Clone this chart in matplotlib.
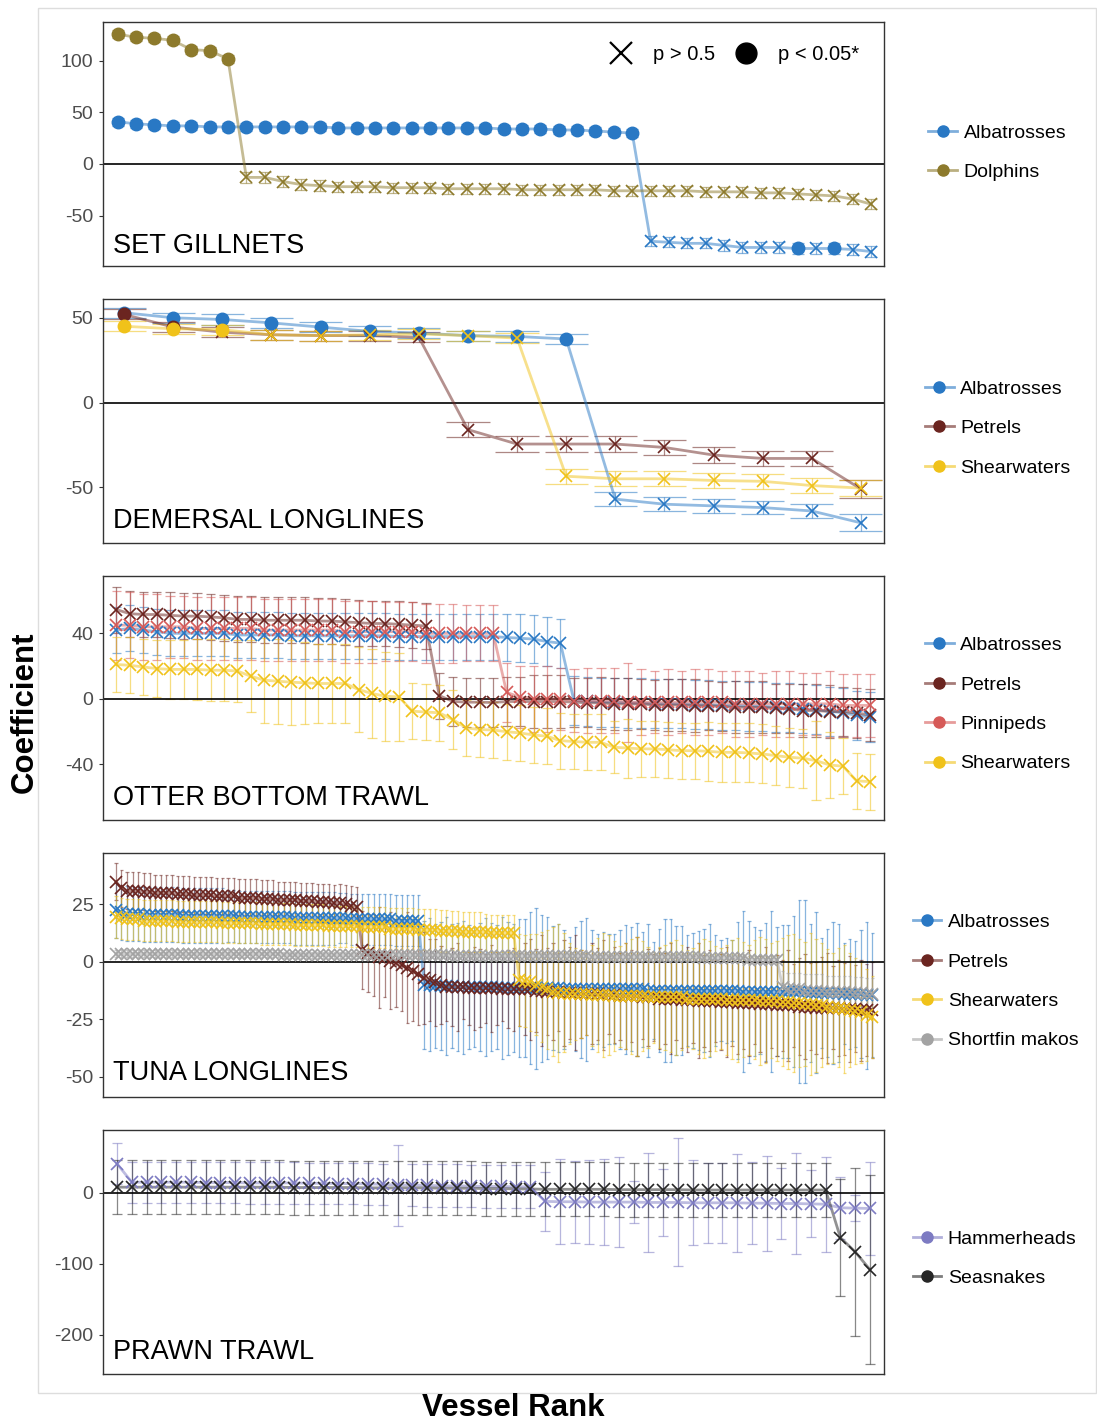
import numpy as np
import matplotlib.pyplot as plt
from matplotlib.colors import to_rgba
from matplotlib.lines import Line2D
from matplotlib.patches import Rectangle

plt.rcParams['font.family'] = ['Liberation Sans', 'DejaVu Sans']
plt.rcParams['axes.unicode_minus'] = False

# ==========================================
# cores de cada grupo
# ==========================================
COL_ALBATROSS = '#2978C4'
COL_DOLPHIN = '#8D7A2C'
COL_PETREL = '#6B2520'
COL_PINNIPED = '#D65A58'
COL_SHEARWATER = '#F0C21A'
COL_MAKO = '#A3A3A3'
COL_HAMMER = '#7D7BC2'
COL_SEASNAKE = '#262626'

# ==========================================
# SET GILLNETS (42 embarcações)
# ==========================================
gill_albatross = [41, 39, 38, 37, 37, 36, 36, 36, 36, 36, 36, 36, 35, 35, 35, 35, 35, 35, 35, 35, 35,
                  34, 34, 34, 33, 33, 32, 31, 30,
                  -75, -76, -77, -77, -79, -81, -81, -81, -82, -82, -82, -83, -85]
gill_albatross_err = [4, 4, 4, 4, 4, 4, 4, 4, 4, 4, 4, 4, 4, 4, 4, 4, 4, 4, 4, 4, 4, 4, 4, 4, 4, 4, 4, 4, 4,
                      5, 5, 5, 5, 5, 5, 5, 5, 5, 5, 5, 5, 5]
gill_albatross_sig = list(range(29)) + [37, 39]

gill_dolphin = [126, 123, 122, 120, 111, 110, 102,
                -13, -13, -17, -20, -21, -22, -22, -22, -23, -23, -23, -24, -24, -24, -24, -25, -25, -25, -25, -25,
                -26, -26, -26, -26, -26, -27, -27, -27, -28, -28, -29, -30, -31, -34, -39]
gill_dolphin_err = [4, 4, 4, 4, 4, 4, 4,
                    5, 5, 5, 5, 5, 5, 5, 5, 5, 5, 5, 5, 5, 5, 5, 5, 5, 5, 5, 5,
                    5, 5, 5, 5, 5, 5, 5, 5, 5, 5, 5, 5, 5, 5, 5]
gill_dolphin_sig = list(range(7))

# ==========================================
# DEMERSAL LONGLINES (16 embarcações)
# ==========================================
dem_albatross = [53, 50, 49, 47, 44.5, 42, 41, 39.5, 39, 37.5, -57, -60, -61, -62, -64, -71]
dem_albatross_err = [3, 3, 3, 3, 3, 3, 3, 3, 3, 3, 4, 4, 4, 4, 4, 5]
dem_albatross_sig = list(range(10))

dem_petrel = [52, 44.5, 41.5, 40, 39.5, 39.5, 38.5, -16, -24.5, -24.5, -24.5, -26.5, -31, -33, -33, -51]
dem_petrel_err = [3, 3, 3, 3, 3, 3, 3, 4.5, 4.5, 4.5, 4.5, 4.5, 4.5, 4.5, 4.5, 5.5]
dem_petrel_sig = [0, 1]

dem_shearwater = [45, 43.5, 43, 40, 39.5, 40, 40.5, 39.5, 38, -43.5, -45, -45, -46, -46.5, -49, -50.5]
dem_shearwater_err = [3, 3, 3, 3, 3, 3, 3, 3, 3, 4.5, 4.5, 4.5, 4.5, 4.5, 4.5, 4.5]
dem_shearwater_sig = [0, 1, 2]

# ==========================================
# OTTER BOTTOM TRAWL (57 embarcações)
# ==========================================
otter_albatross = [42, 43, 42, 41, 40, 40, 40, 40, 40, 39, 39, 39, 39, 38.5, 38.5, 38.5, 38.5, 38.5, 38.5, 38.5,
                   38.5, 38, 38, 38, 38, 38, 38, 38, 38, 37.5, 37, 36.5, 35, 34,
                   -1, -1.5, -2, -2, -2.5, -2.5, -3, -3, -3, -3.5, -3.5, -4, -4, -4.5, -4.5, -5, -5.5, -6, -6.5,
                   -7.5, -8.5, -10, -11]
otter_albatross_err = [14, 14, 14, 14, 14, 14, 14, 14, 14, 14, 14, 14, 14, 14, 14, 14, 14, 14, 14, 14,
                       14, 14, 14, 14, 14, 14, 14, 14, 14, 14.5, 14.5, 14.5, 15, 15,
                       15, 15, 15, 15, 15, 15, 15, 15, 15, 15, 15, 15, 15, 15, 15, 15, 15, 15, 15,
                       15, 15, 15, 15]

otter_petrel = [54.5, 52, 51.5, 51.5, 51, 50.5, 50.5, 50, 49.5, 48.5, 48.5, 48, 48, 48, 48, 47.5, 47.5, 47,
                46.5, 46, 46, 45.5, 45, 44.5,
                2, -1.5, -2, -2, -2.2, -1.6, -1.6, -1.6, -1.6, -1.6, -2, -2.4, -2.4, -3.1, -3.1, -3.1,
                -3.7, -3.7, -3.7, -4.1, -4.1, -4.5, -5.1, -5.1, -5.1, -5.7, -6.1, -7.1, -7.1, -7.7, -7.7,
                -8.6, -9.8]
otter_petrel_err = [14, 14, 14, 14, 14, 14, 14, 14, 14, 14, 14, 14, 14, 14, 14, 14, 14, 14, 14, 14, 14, 14, 14, 14,
                    14, 15, 15, 15, 15, 15, 15, 16, 16, 16, 15, 15, 16, 16, 16, 15, 15, 16, 16, 16,
                    15, 15, 16, 16, 16, 15, 15, 16, 16, 16, 15, 15, 16]

otter_pinniped = [45, 45, 44, 44, 44, 44, 43, 43, 43, 43, 43, 42, 42, 42, 42, 42, 42, 41, 41, 41, 41, 41, 41,
                  40, 40, 40, 40, 40, 40,
                  4, 1, 0, 0, 0, -1, -1, -1, -1, -2, -2, -2, -2, -2, -2, -2, -2, -3, -3, -3, -3, -3, -3, -3,
                  -3, -4, -4, -4]
otter_pinniped_err = [21, 20, 20, 20, 19, 19, 19, 19, 19, 19, 19, 19, 19, 19, 19, 19, 19, 19, 19, 19,
                      18, 18, 18, 18, 18, 18, 17, 17, 17,
                      18, 19, 20, 20, 19, 19, 20, 20, 20, 24, 20, 19, 20, 19, 20, 20, 19, 20, 20, 19,
                      20, 20, 19, 19, 20, 19, 19, 19]

otter_shearwater = [21, 20.5, 19.5, 18.5, 18, 18, 18, 17.5, 17.5, 17, 13.8, 11.4, 10.8, 10.2, 9.8, 9.4, 9.4,
                    9.4, 5.7, 3.3, 1.6, 1.2, -7.5, -8, -8.5, -12.6, -17.7, -18.7,
                    -19, -20, -20.8, -22, -22.8, -25.5, -26, -26.5, -26.5, -29.5, -30, -30.5, -30.5, -31,
                    -31.6, -31.6, -32, -32.6, -32.6, -33, -33.6, -34.6, -35.6, -36.2, -37.7, -40.3, -41.1,
                    -50, -50.5]
otter_shearwater_err = [17, 17, 17, 17.5, 18, 18, 18.5, 19, 19, 19, 22, 26, 26, 26, 25, 24, 24, 24, 26, 27,
                        27, 27, 17, 17, 17, 18, 17, 17, 17, 17, 17, 17, 17, 17, 17, 17, 17, 16, 18, 17,
                        17, 17, 17, 17, 18, 18, 18, 18, 18, 18, 18, 18, 24, 20, 17, 17, 17]

# ==========================================
# TUNA LONGLINES (136 embarcações)
# ==========================================
tuna_albatross = [22.5, 21.5, 21, 21, 21, 20.5, 20.5, 20.5, 20.5, 20.5,
                  20.5, 20.5, 20, 20, 20, 20, 20, 20, 20, 20,
                  20, 20, 19.5, 19.5, 19.5, 19.5, 19.5, 19.5, 19.5, 19.5,
                  19.5, 19.5, 19, 19, 19, 19, 19, 19, 19, 19,
                  19, 19, 18.5, 18.5, 18.5, 18.5, 18.5, 18.5, 18.5, 18.5,
                  18, 18, 18, 18, 18,
                  -10, -10, -10.5, -10.5, -10.5, -10.5, -11, -11, -11, -11,
                  -11, -11, -11, -11, -11.5, -11.5, -11.5, -11.5,
                  -11.5, -11.5, -11.5, -11.5, -11.5, -11.5, -11.5, -12, -12, -12,
                  -12, -12, -12, -12, -12, -12, -12, -12, -12, -12,
                  -12, -12, -12.5, -12.5, -12.5, -12.5, -12.5, -12.5, -12.5, -12.5,
                  -12.5, -12.5, -12.5, -12.5, -12.5, -12.5, -12.5, -12.5, -12.5, -13,
                  -13, -13, -13, -13, -13, -13, -13, -13, -13, -13,
                  -13, -13.5, -13.5, -13.5, -13.5, -13.5, -13.5, -14, -14, -14,
                  -14, -14.5, -14.5]
tuna_albatross_err = [12, 12, 12, 12, 12, 12, 12, 12, 12, 12,
                      12, 12, 12, 12, 12, 12, 12, 12, 12, 12,
                      11.5, 11.5, 11.5, 11.5, 11.5, 11.5, 11.5, 11.5, 11.5, 11.5,
                      11.5, 11.5, 11.5, 11.5, 11.5, 11.5, 11.5, 11.5, 11.5, 11.5,
                      11, 11, 11, 11, 11, 11, 11, 11, 11, 11,
                      11, 11, 11, 11, 11,
                      28, 29, 27, 28, 30, 27, 28, 29, 27, 26, 28, 30, 28, 27, 31, 29, 28, 30,
                      30, 33, 35, 32, 31, 27, 28, 26, 23, 27,
                      30, 31, 26, 24, 25, 24, 24, 26, 28, 27,
                      29, 25, 29, 21, 27, 31, 31, 28, 28, 24,
                      25, 26, 27, 29, 24, 22, 23, 22, 30, 35,
                      31, 28, 27, 30, 35, 28, 29, 29, 33, 40,
                      40, 30, 35, 24, 28, 31, 30, 22, 24, 23,
                      28, 32, 27]

tuna_petrel = [35, 32, 31, 31, 31, 30.5, 30.5, 30, 30, 30,
               30, 29.5, 29.5, 29.5, 29, 29, 29, 29, 28.5, 28.5,
               28.5, 28.5, 28, 28, 28, 28, 27.5, 27.5, 27.5, 27,
               27, 27, 27, 26.5, 26.5, 26.5, 26, 26, 26, 25.5,
               25.5, 25, 24.5, 24,
               5, 4, 3, 2, 1.5, 0.5, -0.5, -1.5, -2.5, -4, -5.5, -7, -8, -9, -10,
               -11, -11, -11, -11, -11.5, -11.5, -11.5, -11.5, -11.5, -11.5, -12, -12, -12, -12,
               -12, -12, -12.5, -12.5, -13, -13, -13, -13.5, -13.5, -13.5,
               -14, -14, -14, -14, -14.5, -14.5, -14.5, -15, -15, -15,
               -15, -15.5, -15.5, -15.5, -16, -16, -16, -16, -16.5, -16.5,
               -16.5, -17, -17, -17, -17, -17.5, -17.5, -17.5, -18, -18,
               -18, -18, -18.5, -18.5, -18.5, -19, -19, -19, -19, -19.5,
               -19.5, -19.5, -20, -20, -20, -20, -20, -20.5, -20.5, -20.5,
               -21, -21, -21]
tuna_petrel_err = [8, 8, 8, 8, 8, 8, 8, 8, 8, 8,
                   8, 8, 8, 8, 8, 8, 8, 8, 8, 8,
                   8, 8, 8, 8, 8, 8, 8, 8, 8, 8,
                   8, 8, 8, 8, 8, 8, 8, 8, 8, 8,
                   8.5, 8.5, 8.5, 8.5,
                   17, 17, 18, 22, 17, 21, 19, 20, 24, 22, 22, 20, 18, 19, 17,
                   15, 17, 19, 14, 16, 18, 17, 15, 19, 16, 14, 17, 18, 16,
                   20, 22, 18, 24, 19, 21, 17, 23, 20, 25,
                   19, 18, 22, 20, 24, 17, 21, 19, 23, 20,
                   26, 18, 21, 19, 22, 20, 24, 18, 21, 23,
                   19, 25, 20, 22, 18, 21, 24, 19, 22, 20,
                   23, 18, 21, 25, 19, 22, 20, 24, 18, 21,
                   23, 19, 20, 22, 24, 18, 21, 20, 23, 19,
                   22, 20, 21]

tuna_shearwater = [19.5, 19, 18.5, 18.5, 18.5, 18, 18, 18, 18, 18,
                   18, 17.5, 17.5, 17.5, 17.5, 17.5, 17.5, 17.5, 17.5, 17,
                   17, 17, 17, 17, 17, 17, 16.5, 16.5, 16.5, 16.5,
                   16.5, 16.5, 16, 16, 16, 16, 16, 16, 15.5, 15.5,
                   15.5, 15.5, 15.5, 15.5, 15, 15, 15, 15, 15, 14.5,
                   14.5, 14.5, 14.5, 14.5, 14, 14, 14, 14, 13.5, 13.5,
                   13.5, 13.5, 13, 13, 13, 13, 13, 12.5, 12.5, 12.5,
                   12.5, 12.5,
                   -8, -8.5, -9, -10, -11, -12, -13, -13.5, -13.5, -14,
                   -14, -14, -14, -14.5, -14.5, -14.5, -14.5, -15, -15, -15,
                   -15, -15, -15, -15.5, -15.5, -15.5, -15.5, -15.5, -15.5, -15.5,
                   -16, -16, -16, -16, -16, -16, -16, -16.5, -16.5, -16.5,
                   -16.5, -16.5, -16.5, -17, -17, -17, -17, -17.5, -17.5, -18,
                   -18, -18.5, -18.5, -19, -19, -19.5, -20, -20, -20.5, -21,
                   -21.5, -22, -23, -24]
tuna_shearwater_err = [9, 9, 9, 9, 9, 9, 9, 9, 9, 9,
                       9, 9, 9, 9, 9, 9, 9, 9, 9, 9,
                       9, 9, 9, 9, 9, 9, 9, 9, 9, 9,
                       9, 9, 9, 9, 9, 9, 9, 9, 9, 9,
                       9, 9, 9, 9, 9, 9, 9, 9, 9, 9,
                       9, 9, 9, 9, 9, 9, 9, 9, 9, 9,
                       8.5, 8.5, 8.5, 8.5, 8.5, 8.5, 8, 8, 8, 8, 8, 8,
                       20, 20, 21, 22, 24, 26, 28, 30, 26, 22,
                       20, 19, 18, 22, 25, 27, 26, 24, 22, 23,
                       25, 26, 24, 22, 20, 22, 23, 24, 25, 23,
                       21, 22, 24, 26, 25, 23, 22, 24, 26, 27,
                       25, 24, 26, 28, 27, 25, 26, 28, 29, 30,
                       28, 27, 31, 29, 27, 25, 24, 26, 28, 25,
                       23, 22, 20, 18]

tuna_mako = [3.5, 3.5, 3.5, 3.5, 3.5, 3.5, 3.5, 3.5, 3.5, 3.5,
             3.5, 3.5, 3.5, 3.5, 3.5, 3.5, 3.5, 3.5, 3.5, 3.5,
             3.5, 3.5, 3.5, 3.5, 3.5, 3.5, 3.5, 3.5, 3.5, 3.5,
             3, 3, 3, 3, 3, 3, 3, 3, 3, 3,
             3, 3, 3, 3, 3, 3, 3, 3, 3, 3,
             3, 3, 3, 3, 3, 3, 3, 3, 3, 3,
             2.5, 2.5, 2.5, 2.5, 2.5, 2.5, 2.5, 2.5, 2.5, 2.5,
             2.5, 2.5, 2.5, 2.5, 2.5, 2.5, 2.5, 2.5, 2.5, 2.5,
             2.5, 2.5, 2.5, 2.5, 2.5, 2, 2, 2, 2, 2,
             2, 2, 2, 2, 2, 2, 2, 2, 2, 2,
             2, 2, 2, 2, 2, 1.5, 1.5, 1.5, 1.5, 1.5,
             1.5, 1.5, 1.5, 1, 1, 1, 1, 1, 1,
             -11, -12, -12, -12, -12.5, -12.5, -12.5, -12.5, -13, -13,
             -13, -13, -13, -13.5, -13.5, -14, -14]
tuna_mako_err = [1.5, 1.5, 1.5, 1.5, 1.5, 1.5, 1.5, 1.5, 1.5, 1.5,
                 1.5, 1.5, 1.5, 1.5, 1.5, 1.5, 1.5, 1.5, 1.5, 1.5,
                 1.5, 1.5, 1.5, 1.5, 1.5, 1.5, 1.5, 1.5, 1.5, 1.5,
                 1.5, 1.5, 1.5, 1.5, 1.5, 1.5, 1.5, 1.5, 1.5, 1.5,
                 1.5, 1.5, 1.5, 1.5, 1.5, 1.5, 1.5, 1.5, 1.5, 1.5,
                 1.5, 1.5, 1.5, 1.5, 1.5, 1.5, 1.5, 1.5, 1.5, 1.5,
                 1.5, 1.5, 1.5, 1.5, 1.5, 1.5, 1.5, 1.5, 1.5, 1.5,
                 1.5, 1.5, 1.5, 1.5, 1.5, 1.5, 1.5, 1.5, 1.5, 1.5,
                 1.5, 1.5, 1.5, 1.5, 1.5, 1.5, 1.5, 1.5, 1.5, 1.5,
                 1.5, 1.5, 1.5, 1.5, 1.5, 1.5, 1.5, 1.5, 1.5, 1.5,
                 1.5, 1.5, 1.5, 1.5, 1.5, 1.5, 1.5, 1.5, 1.5, 1.5,
                 1.5, 1.5, 1.5, 1.5, 1.5, 1.5, 1.5, 1.5, 1.5,
                 7, 7, 7, 7, 7, 7, 7, 7, 7, 7,
                 7, 7, 7, 7, 7, 7, 7]

# ==========================================
# PRAWN TRAWL (52 embarcações)
# ==========================================
prawn_hammer = [41, 15, 15, 15, 15, 15, 14.5, 14.5, 14.5, 14, 14, 14, 14, 13.5, 13.5, 13, 13, 12.5, 12,
                11, 11, 10.5, 10, 10, 9.5, 9, 9, 8.5, 8.5,
                -12, -12.5, -12.5, -13, -13, -13, -13, -13.5, -13.5, -13.5, -14, -14, -14, -14,
                -14.5, -14.5, -15, -15, -15.5, -16, -21, -21.5, -22]
prawn_hammer_err = [29, 29, 29, 29, 29, 29, 29, 29, 29, 29, 29, 29, 29, 29, 29, 29, 29, 29, 29,
                    57, 30, 30, 30, 30, 30, 30, 30, 30, 30,
                    41, 60, 58, 59, 61, 63, 29, 70, 47, 90, 60, 56, 56, 69, 58, 67, 50, 71, 47, 67,
                    44, 18, 66]

prawn_seasnake = [8, 8, 8, 8, 8, 8, 8, 8, 8, 8, 8, 8, 7.5, 7.5, 7.5, 7.5, 7.5, 7, 7, 7, 7, 7,
                  6.5, 6.5, 6.5, 6, 6, 5.5, 5.5, 5, 5, 5, 5, 5, 4.5, 4.5, 4.5, 4.5, 4.5,
                  4, 4, 4, 4, 4, 4, 4, 4, 4, 4, -63, -83, -108]
prawn_seasnake_err = [38, 38, 38, 38, 38, 38, 38, 38, 38, 38, 38, 38, 38, 38, 38, 38, 38, 38, 38, 38,
                      38, 38, 38, 38, 38, 38, 38, 38, 38, 38, 38, 38, 38, 38, 38, 38, 38, 38, 38, 38,
                      38, 38, 38, 38, 38, 38, 38, 38, 38, 82, 118, 133]

# ==========================================
# configuração dos painéis
# ==========================================
paineis = [
    dict(titulo='SET GILLNETS', bottom=0.81307, ylim=(-99, 138), yticks=[-50, 0, 50, 100],
         xpad=(0.8, 0.7), cap=0.65, label_y=0.055, leg_x=1.057, leg_y=0.465,
         series=[('Albatrosses', gill_albatross, gill_albatross_err, gill_albatross_sig, COL_ALBATROSS),
                 ('Dolphins', gill_dolphin, gill_dolphin_err, gill_dolphin_sig, COL_DOLPHIN)]),
    dict(titulo='DEMERSAL LONGLINES', bottom=0.61841, ylim=(-82.9, 61.2), yticks=[-50, 0, 50],
         xpad=(0.43, 0.47), cap=0.88, label_y=0.061, leg_x=1.053, leg_y=0.469,
         series=[('Albatrosses', dem_albatross, dem_albatross_err, dem_albatross_sig, COL_ALBATROSS),
                 ('Petrels', dem_petrel, dem_petrel_err, dem_petrel_sig, COL_PETREL),
                 ('Shearwaters', dem_shearwater, dem_shearwater_err, dem_shearwater_sig, COL_SHEARWATER)]),
    dict(titulo='OTTER BOTTOM TRAWL', bottom=0.42375, ylim=(-73.9, 75.1), yticks=[-40, 0, 40],
         xpad=(0.99, 1.04), cap=0.7, label_y=0.061, leg_x=1.053, leg_y=0.473,
         series=[('Albatrosses', otter_albatross, otter_albatross_err, [], COL_ALBATROSS),
                 ('Petrels', otter_petrel, otter_petrel_err, [], COL_PETREL),
                 ('Pinnipeds', otter_pinniped, otter_pinniped_err, [], COL_PINNIPED),
                 ('Shearwaters', otter_shearwater, otter_shearwater_err, [], COL_SHEARWATER)]),
    dict(titulo='TUNA LONGLINES', bottom=0.22909, ylim=(-58.9, 47.5), yticks=[-50, -25, 0, 25],
         xpad=(2.3, 2.1), cap=0.6, label_y=0.07, leg_x=1.037, leg_y=0.473,
         series=[('Albatrosses', tuna_albatross, tuna_albatross_err, [], COL_ALBATROSS),
                 ('Petrels', tuna_petrel, tuna_petrel_err, [], COL_PETREL),
                 ('Shearwaters', tuna_shearwater, tuna_shearwater_err, [], COL_SHEARWATER),
                 ('Shortfin makos', tuna_mako, tuna_mako_err, [], COL_MAKO)]),
    dict(titulo='PRAWN TRAWL', bottom=0.03443, ylim=(-254.9, 88.7), yticks=[-200, -100, 0],
         xpad=(0.95, 0.95), cap=0.68, label_y=0.061, leg_x=1.037, leg_y=0.473,
         series=[('Hammerheads', prawn_hammer, prawn_hammer_err, [], COL_HAMMER),
                 ('Seasnakes', prawn_seasnake, prawn_seasnake_err, [], COL_SEASNAKE)]),
]

fig = plt.figure(figsize=(10.97, 14.23), dpi=100)
fig.patches.append(Rectangle((38 / 1097, 1 - 1393 / 1423), 1058 / 1097, 1385 / 1423,
                             transform=fig.transFigure, fill=False, edgecolor='#DDDDDD', lw=1))

for p in paineis:
    ax = fig.add_axes([0.0939, p['bottom'], 0.7119, 0.1716])
    n = len(p['series'][0][1])
    x = np.arange(1, n + 1)
    w = p['cap'] / 2

    # barras de erro
    for nome, vals, err, sig, cor in p['series']:
        v = np.array(vals, dtype=float)
        e = np.array(err, dtype=float)
        ax.vlines(x, v - e, v + e, color=cor, alpha=0.55, lw=0.9, zorder=1)
        ax.hlines(v + e, x - w, x + w, color=cor, alpha=0.55, lw=0.9, zorder=1)
        ax.hlines(v - e, x - w, x + w, color=cor, alpha=0.55, lw=0.9, zorder=1)

    ax.axhline(0, color='black', lw=1.2, zorder=2)

    # linhas
    for nome, vals, err, sig, cor in p['series']:
        ax.plot(x, vals, color=cor, alpha=0.5, lw=2.0, zorder=3)

    # pontos: círculo = p < 0.05, x = não significativo
    for nome, vals, err, sig, cor in p['series']:
        v = np.array(vals, dtype=float)
        m = np.zeros(n, dtype=bool)
        m[list(sig)] = True
        ax.plot(x[~m], v[~m], ls='none', marker='x', ms=8, mew=1.2, color=cor, zorder=4)
        ax.plot(x[m], v[m], ls='none', marker='o', ms=9, color=cor, mec=cor, zorder=4)

    ax.set_xlim(1 - p['xpad'][0], n + p['xpad'][1])
    ax.set_ylim(*p['ylim'])
    ax.set_yticks(p['yticks'])
    ax.set_xticks([])
    ax.tick_params(axis='y', length=3, width=0.8, color='#333333', labelsize=14,
                   labelcolor='#4D4D4D', pad=4)
    for sp in ax.spines.values():
        sp.set_color('#333333')
        sp.set_linewidth(1.0)

    ax.text(0.013, p['label_y'], p['titulo'], transform=ax.transAxes, fontsize=19.5,
            ha='left', va='baseline', color='black')

    if p['titulo'] == 'SET GILLNETS':
        sig_handles = [Line2D([0], [0], ls='none', marker='x', color='black', ms=16, mew=1.6),
                       Line2D([0], [0], ls='none', marker='o', color='black', ms=15)]
        leg_sig = ax.legend(sig_handles, ['p > 0.5', 'p < 0.05*'], ncol=2, loc='center right',
                            bbox_to_anchor=(0.968, 0.865), frameon=False, fontsize=14.5,
                            handlelength=1.2, handletextpad=1.0, columnspacing=0.9,
                            borderpad=0, borderaxespad=0)
        ax.add_artist(leg_sig)

    handles = [Line2D([0], [0], color=to_rgba(cor, 0.6), lw=2, marker='o', ms=8,
                      mfc=cor, mec=cor) for nome, vals, err, sig, cor in p['series']]
    nomes = [s[0] for s in p['series']]
    ax.legend(handles, nomes, loc='center left', bbox_to_anchor=(p['leg_x'], p['leg_y']),
              frameon=False, fontsize=14, handlelength=1.45, handletextpad=0.35,
              labelspacing=1.12, borderpad=0, borderaxespad=0)

fig.text(0.0228, 0.4997, 'Coefficient', rotation=90, fontsize=22.5, fontweight='bold',
         ha='center', va='center')
fig.text(0.4676, 0.0105, 'Vessel Rank', fontsize=22.5, fontweight='bold', ha='center', va='center')

fig.savefig('out.png', dpi=100)
